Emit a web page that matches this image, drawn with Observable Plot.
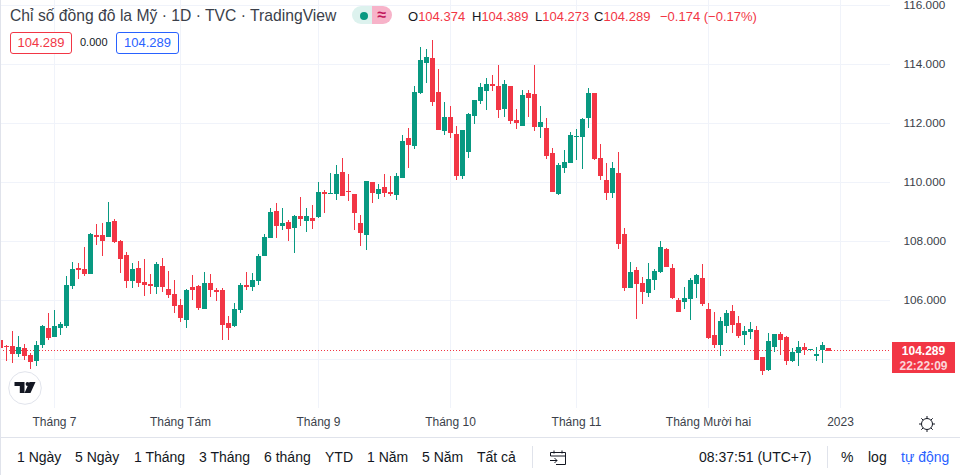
<!DOCTYPE html>
<html lang="vi"><head><meta charset="utf-8">
<script src="https://cdn.jsdelivr.net/npm/d3@7"></script>
<script src="https://cdn.jsdelivr.net/npm/@observablehq/plot@0.6"></script>
<style>
html,body{margin:0;padding:0;background:#fff;overflow:hidden}
body{width:960px;height:475px;position:relative;font-family:"Liberation Sans",Arial,sans-serif;color:#131722}
#chart{position:absolute;left:0;top:0}
.a{position:absolute;white-space:nowrap}
.foot{top:449px;font-size:14px;line-height:16px;color:#131722}
.leg{top:9px;font-size:13px;line-height:16px;color:#F23645}
.leg b{font-weight:400;color:#131722}
.box{top:32px;height:20px;line-height:20px;border-radius:3px;font-size:13px;text-align:center;background:#fff}
</style></head><body>
<div id="chart"></div>
<div class="a" style="left:0;top:0;width:1px;height:475px;background:#E0E3EB"></div>
<div class="a" style="left:0;top:437px;width:960px;height:1px;background:#E0E3EB"></div>
<div class="a" style="left:10px;top:6px;font-size:15.7px;line-height:20px;color:#3b3f4a">Chỉ số đồng đô la Mỹ · 1D · TVC · TradingView</div>
<div class="a" style="left:352px;top:6px;width:20px;height:18px;background:#DDF2EE;border-radius:9px 0 0 9px"></div>
<div class="a" style="left:372px;top:6px;width:20px;height:18px;background:#F7B3C9;border-radius:0 9px 9px 0"></div>
<div class="a" style="left:360px;top:12px;width:8px;height:8px;border-radius:4px;background:#089981"></div>
<div class="a" style="left:372px;top:5px;width:20px;text-align:center;font-size:16px;font-weight:700;line-height:20px;color:#C2185B">≈</div>
<div class="a leg" style="left:408px"><b>O</b>104.374</div>
<div class="a leg" style="left:472px"><b>H</b>104.389</div>
<div class="a leg" style="left:535px"><b>L</b>104.273</div>
<div class="a leg" style="left:594px"><b>C</b>104.289</div>
<div class="a leg" style="left:660px">−0.174 (−0.17%)</div>
<div class="a box" style="left:10px;width:60px;border:1px solid #F23645;color:#F23645">104.289</div>
<div class="a" style="left:80px;top:35px;font-size:11px;line-height:14px;color:#131722">0.000</div>
<div class="a box" style="left:116px;width:61px;border:1px solid #2962FF;color:#2962FF">104.289</div>

<svg class="a" style="left:7.5px;top:370.5px" width="34" height="34" viewBox="0 0 34 34"><circle cx="17" cy="17" r="16.3" fill="#fff" stroke="#E0E3EB" stroke-width="1"/><path d="M6.5 11h10v11h-4.7v-7H6.5z M21.5 11h6l-5 11h-6z" fill="#131722"/><circle cx="19.5" cy="13" r="1.9" fill="#131722"/></svg>

<div class="a" style="left:892px;top:342px;width:63px;height:31px;background:#F23645"></div>
<div class="a" style="left:892px;top:344px;width:63px;text-align:center;font-size:12px;line-height:14px;font-weight:700;color:#fff">104.289</div>
<div class="a" style="left:892px;top:359px;width:63px;text-align:center;font-size:12px;line-height:14px;font-weight:700;color:#fbd5d9">22:22:09</div>

<svg class="a" style="left:918px;top:415px" width="18" height="18" viewBox="0 0 18 18" fill="none" stroke="#131722"><circle cx="9" cy="9" r="5.5"/><path d="M9 1v2.5M9 14.5V17M1 9h2.5M14.5 9H17M3.3 3.3l1.8 1.8M12.9 12.9l1.8 1.8M3.3 14.7l1.8-1.8M12.9 5.1l1.8-1.8"/></svg>

<div class="a foot" style="left:17px">1 Ngày</div>
<div class="a foot" style="left:75px">5 Ngày</div>
<div class="a foot" style="left:134px">1 Tháng</div>
<div class="a foot" style="left:199px">3 Tháng</div>
<div class="a foot" style="left:264px">6 tháng</div>
<div class="a foot" style="left:325px">YTD</div>
<div class="a foot" style="left:367px">1 Năm</div>
<div class="a foot" style="left:422px">5 Năm</div>
<div class="a foot" style="left:477px">Tất cả</div>
<div class="a" style="left:532px;top:446px;width:1px;height:22px;background:#E0E3EB"></div>
<svg class="a" style="left:549px;top:449px" width="18" height="18" viewBox="0 0 18 18" fill="none" stroke="#131722"><path d="M1.5 7V3.5h15v12H7M1.5 7h15M5 1.5v3M13 1.5v3M1 11.5h7M5.5 9l2.5 2.5L5.5 14"/></svg>
<div class="a foot" style="left:699px">08:37:51 (UTC+7)</div>
<div class="a" style="left:827px;top:446px;width:1px;height:22px;background:#E0E3EB"></div>
<div class="a foot" style="left:841px">%</div>
<div class="a foot" style="left:868px">log</div>
<div class="a foot" style="left:901px;color:#2962FF">tự động</div>

<script>
const opens = [
104.65,104.46,104.45,104.19,104.38,104.15,103.95,104.47,105.06,104.77,
105.05,105.14,106.49,107.09,107.06,106.90,108.21,108.21,108.16,108.69,
108.01,107.54,106.67,107.09,106.62,106.55,106.46,107.16,106.38,106.21,
105.84,105.34,106.45,106.48,105.70,106.59,106.35,106.35,105.23,105.13,
105.67,106.52,106.45,106.65,107.50,108.11,109.03,108.52,108.65,108.45,
108.86,108.69,108.79,108.82,109.67,109.60,109.60,110.35,109.71,109.60,
108.62,108.21,110.01,109.60,109.84,109.67,109.57,110.15,111.50,111.23,
113.03,114.04,114.21,113.06,111.74,112.21,111.64,110.21,111.03,112.25,
112.76,113.09,113.33,113.27,112.49,113.27,112.11,111.91,113.03,112.99,
111.87,111.84,110.99,109.60,110.49,110.65,111.54,111.54,112.18,113.03,
110.82,110.08,109.64,110.32,108.25,106.42,107.03,106.59,106.25,106.69,
106.96,107.74,107.09,106.01,105.94,106.04,106.55,106.76,105.70,104.82,
104.48,105.13,105.64,105.23,104.82,104.92,104.99,104.08,103.64,104.42,
104.86,104.76,103.94,104.21,104.42,104.32,104.11,104.32,104.374];
const highs = [
104.65,104.48,104.96,104.79,104.52,104.21,104.62,105.15,105.57,105.67,
105.26,106.83,107.30,107.26,107.81,108.28,108.59,108.62,109.33,108.76,
108.04,107.64,107.26,107.33,107.40,106.89,107.30,107.43,106.99,106.69,
106.04,106.38,106.86,106.52,106.96,106.89,106.42,106.42,105.47,105.91,
106.59,106.96,106.93,107.57,108.25,109.13,109.30,109.13,108.72,108.89,
109.50,109.13,109.23,110.01,109.74,110.32,110.59,110.82,110.28,109.60,
108.89,110.04,110.01,109.94,110.28,110.21,110.32,111.60,111.84,113.27,
114.59,114.52,114.82,113.84,112.72,112.59,111.91,111.77,112.35,112.79,
113.37,113.54,113.64,113.98,113.47,113.27,112.49,113.13,113.13,113.98,
112.59,112.18,111.16,110.65,111.09,111.71,111.81,112.18,113.20,113.03,
111.30,110.65,110.69,111.03,108.45,107.30,107.13,106.79,107.26,107.06,
108.01,107.77,107.23,106.08,106.45,106.76,106.89,107.23,105.91,105.60,
105.43,105.67,105.84,105.47,105.13,105.26,105.13,104.08,104.89,104.86,
104.92,104.79,104.38,104.62,104.55,104.35,104.42,104.59,104.389];
const lows = [
104.38,103.95,103.89,104.09,103.99,103.68,103.78,104.39,104.66,104.77,
104.83,105.07,106.39,106.73,106.84,106.90,107.88,107.51,108.16,107.95,
106.93,106.43,106.43,106.46,106.15,106.21,106.21,106.29,106.09,105.57,
105.26,105.07,106.01,105.67,105.70,106.11,105.98,104.65,104.65,105.09,
105.57,106.35,106.31,106.52,107.50,108.11,108.11,108.38,108.01,107.60,
108.52,108.32,108.42,108.79,108.96,109.60,109.40,109.54,109.37,108.38,
107.84,107.71,109.30,109.43,109.50,109.54,109.40,110.15,110.49,111.13,
113.00,113.37,112.59,111.77,111.60,111.50,110.08,110.11,110.82,111.98,
112.65,112.45,113.09,112.18,112.21,111.98,111.81,111.91,112.21,111.74,
111.50,110.79,109.67,109.57,110.32,110.65,110.76,110.45,111.84,110.76,
110.08,109.40,109.47,107.74,106.31,106.42,105.37,105.87,106.11,106.35,
106.93,107.13,106.04,105.60,105.70,105.33,106.08,105.81,104.69,104.38,
104.11,104.89,104.89,104.72,104.48,104.69,103.98,103.47,103.60,104.25,
104.15,103.81,103.91,103.77,104.15,104.32,103.94,103.88,104.273];
const closes = [
104.38,104.43,104.19,104.42,104.12,103.92,104.48,105.13,104.73,105.13,
105.20,106.52,107.06,107.03,106.89,108.25,108.16,108.02,108.65,107.99,
107.40,106.67,107.06,106.60,106.52,106.48,107.23,106.46,106.18,105.82,
105.41,106.35,106.35,105.74,106.59,106.35,106.29,105.16,105.06,105.70,
106.52,106.45,106.69,107.50,108.15,108.99,108.52,108.62,108.42,108.86,
108.76,108.86,108.69,109.67,109.60,109.64,110.28,109.54,109.67,108.96,
108.28,110.04,109.64,109.77,109.64,109.60,110.21,111.40,111.26,113.06,
114.15,114.25,112.72,111.77,112.21,111.67,110.21,111.77,112.32,112.79,
113.23,113.33,113.27,112.45,113.33,112.08,112.01,112.96,112.86,111.87,
112.04,110.89,109.67,110.59,110.69,111.60,111.57,112.15,113.03,110.79,
110.21,109.64,110.49,107.91,106.42,106.96,106.55,106.28,106.72,106.99,
107.81,107.13,106.08,105.60,106.08,106.69,106.86,105.87,104.72,104.48,
105.30,105.57,105.16,104.79,104.96,105.03,103.98,103.60,104.62,104.86,
104.65,103.94,104.25,104.42,104.32,104.35,104.18,104.48,104.289];
const lastClose = 104.289;
const monthTicks = [9,30,53,75,96,118,140];
const monthLabels = ["Tháng 7","Tháng Tám","Tháng 9","Tháng 10","Tháng 11","Tháng Mười hai","2023"];
const priceTicks = [106,108,110,112,114,116];
const gridPrices = [104,106,108,110,112,114,116];

const upColor = "#089981", downColor = "#F23645", gridColor = "#F0F3FA";
const bars = opens.map((o,i)=>({i,o,h:highs[i],l:lows[i],c:closes[i],col:closes[i]>=o?upColor:downColor}));

const plot = Plot.plot({
  width:960, height:437,
  marginLeft:0, marginRight:70, marginTop:0, marginBottom:29,
  style:{fontFamily:'"Liberation Sans",Arial,sans-serif',background:"transparent"},
  x:{type:"linear",domain:[0,890/6],range:[0,890]},
  y:{type:"linear",domain:[116.18-408/29.5,116.18],range:[408,0]},
  marks:[
    Plot.ruleY(gridPrices,{stroke:gridColor,strokeWidth:1,strokeOpacity:1,dy:-0.31}),
    Plot.ruleX(monthTicks,{stroke:gridColor,strokeWidth:1,strokeOpacity:1}),
    Plot.ruleY([lastClose],{stroke:downColor,strokeWidth:1,strokeDasharray:"1 2",dy:-0.77}),
    Plot.ruleX(bars,{x:"i",y1:"l",y2:"h",stroke:"col",strokeWidth:1,shapeRendering:"crispEdges"}),
    Plot.ruleX(bars,{x:"i",y1:"o",y2:"c",stroke:"col",strokeWidth:5,shapeRendering:"crispEdges"}),
    Plot.axisX({ticks:monthTicks,tickSize:0,tickPadding:9,tickFormat:d=>monthLabels[monthTicks.indexOf(d)],fontSize:12,fill:"#3b3f4a",label:null}),
    Plot.axisY({ticks:priceTicks,anchor:"right",tickSize:0,tickPadding:13,tickFormat:d=>d3.format(".3f")(d),fontSize:11.8,fill:"#3b3f4a",label:null,textAnchor:"start",dy:-1})
  ]
});
plot.setAttribute("style",(plot.getAttribute("style")||"")+";overflow:hidden");
document.getElementById("chart").append(plot);
</script>
</body></html>
